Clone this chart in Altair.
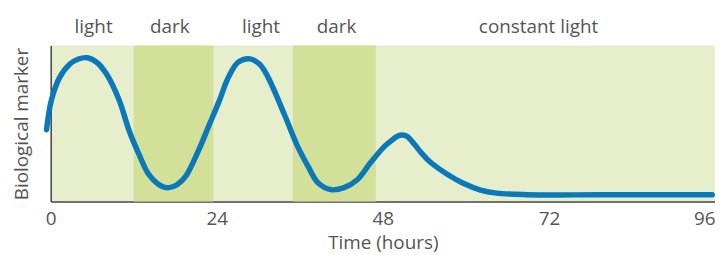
import altair as alt
import pandas as pd

# curve samples (hours, marker value 0-100)
hours = [-0.6, 0.1, 1.3, 2.7, 4.0, 5.3, 6.6, 8.0, 9.9, 11.3, 12.8, 14.2, 16.1, 17.1,
         18.2, 19.5, 21.4, 22.8, 24.3, 25.7, 27.1, 28.8, 30.2, 31.4, 33.8, 35.7,
         37.2, 38.6, 40.5, 42.4, 44.3, 46.2, 48.2, 49.2, 50.1, 50.8, 51.5, 52.5,
         53.6, 54.8, 57.3, 59.7, 62.0, 64.4, 68.7, 80.0, 95.6]
values = [46.0, 65.0, 79.6, 87.9, 91.4, 92.2, 89.5, 82.2, 65.0, 45.9, 29.9, 17.2, 9.6, 8.9,
          10.6, 16.1, 33.1, 48.0, 63.9, 79.8, 89.4, 91.5, 88.0, 79.8, 55.5, 35.2,
          22.5, 12.1, 7.6, 8.9, 14.0, 24.8, 35.2, 39.0, 41.9, 42.6, 41.8, 37.0,
          31.0, 25.5, 17.5, 11.5, 7.5, 5.4, 4.4, 4.3, 4.3]

# dark periods
dark_start = [12, 35]
dark_end = [23.5, 47]

# top labels
label_text = ["light", "dark", "light", "dark", "constant light"]
label_hour = [6.2, 17.2, 30.4, 41.3, 70.5]

x_ticks = [0, 24, 48, 72, 96]

curve = pd.DataFrame({"h": hours, "v": values})
bands = pd.DataFrame({"s": dark_start, "e": dark_end})
labels = pd.DataFrame({"h": label_hour, "t": label_text})

FONT = "Open Sans"
TEXT = "#555555"
FS = 19

xscale = alt.Scale(domain=[0, 96], nice=False, zero=False)
yscale = alt.Scale(domain=[0, 100], nice=False)

band_layer = alt.Chart(bands).mark_rect(color="#d3e09a").encode(
    x=alt.X("s:Q", scale=xscale,
            axis=alt.Axis(values=x_ticks, title="Time (hours)", ticks=False,
                          grid=False, domainColor="#444444", domainWidth=1.5,
                          labelFont=FONT, labelFontSize=FS, labelColor=TEXT,
                          labelPadding=8, titleFont=FONT, titleFontSize=FS,
                          titleFontWeight="normal", titleColor=TEXT, titlePadding=5,
                          labelFlush=False,
                          labelAlign={"condition": {"test": "datum.value == 96", "value": "right"},
                                      "value": "center"})),
    x2="e:Q",
    y=alt.value(0),
    y2=alt.value(157),
)

line_layer = alt.Chart(curve).mark_line(
    color="#0a78b9", strokeWidth=5.5, interpolate="catmull-rom", strokeCap="round", clip=False
).encode(
    x=alt.X("h:Q", scale=xscale),
    y=alt.Y("v:Q", scale=yscale,
            axis=alt.Axis(title="Biological marker", labels=False, ticks=False, grid=False,
                          domainColor="#444444", domainWidth=1.5,
                          titleFont=FONT, titleFontSize=FS, titleFontWeight="normal",
                          titleColor=TEXT, titlePadding=19)),
)

label_layer = alt.Chart(labels).mark_text(
    font=FONT, fontSize=FS, color=TEXT, baseline="alphabetic", align="center"
).encode(
    x=alt.X("h:Q", scale=xscale),
    y=alt.value(-13),
    text="t:N",
)

chart = alt.layer(band_layer, line_layer, label_layer).properties(
    width=669, height=157,
    autosize=alt.AutoSizeParams(type="none"),
    padding={"left": 43, "top": 37, "right": 0, "bottom": 53},
).configure_view(fill="#e6eecb", stroke=None)

chart.save("out.html", embed_options={"renderer": "svg", "actions": False})
